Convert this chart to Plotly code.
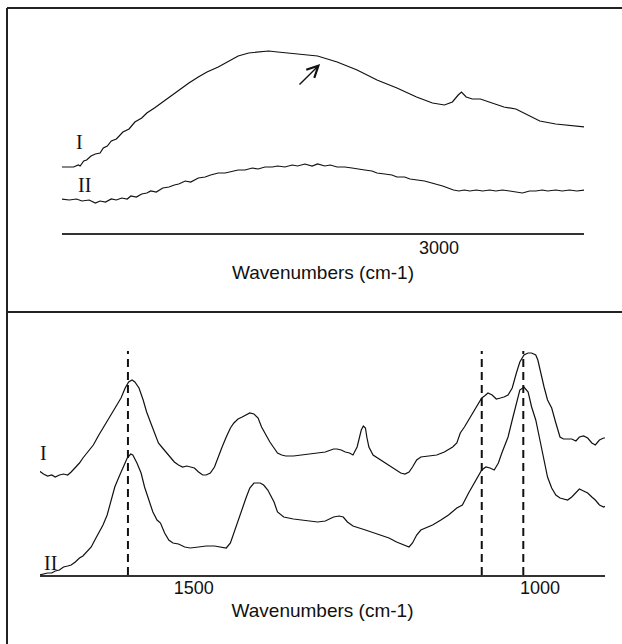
import plotly.graph_objects as go

# ---------------- data: top panel (O-H / C-H region) ----------------
top_wn_I = [4041, 4008, 3995, 3990, 3980, 3972, 3960, 3948, 3935, 3926, 3915, 3904, 3890, 3872,
            3855, 3839, 3820, 3806, 3785, 3762, 3740, 3718, 3690, 3664, 3640, 3609, 3580, 3554,
            3525, 3499, 3470, 3445, 3390, 3335, 3281, 3226, 3171, 3116, 3062, 3018, 2985, 2963,
            2947, 2938, 2925, 2908, 2886, 2854, 2821, 2788, 2766, 2744, 2722, 2678, 2635, 2599]
top_int_I = [66, 66, 68, 67, 72, 73, 77, 79, 80, 85, 87, 92, 94, 101,
             104, 111, 115, 120, 125, 131, 137, 143, 150, 156, 161, 166, 172, 177,
             180, 181, 182, 181, 179, 177, 171, 163, 153, 145, 136, 130, 128, 131,
             138, 141, 136, 134, 134, 130, 126, 124, 120, 116, 112, 109, 107, 106]

top_wn_II = [4041, 4020, 4000, 3985, 3965, 3948, 3935, 3920, 3904, 3890, 3875, 3860, 3850, 3835,
             3820, 3806, 3795, 3780, 3762, 3745, 3730, 3718, 3700, 3685, 3664, 3645, 3630, 3609,
             3590, 3570, 3554, 3535, 3515, 3499, 3480, 3460, 3445, 3425, 3405, 3390, 3370, 3350,
             3335, 3315, 3300, 3281, 3260, 3240, 3226, 3205, 3185, 3171, 3150, 3130, 3116, 3095,
             3080, 3062, 3040, 3020, 3007, 2990, 2975, 2960, 2945, 2930, 2915, 2897, 2880, 2860,
             2843, 2825, 2805, 2788, 2770, 2750, 2733, 2715, 2700, 2678, 2660, 2640, 2620, 2599]
top_int_II = [34, 33, 34, 32, 33, 30, 32, 31, 34, 33, 35, 34, 37, 36,
              39, 40, 42, 41, 45, 46, 48, 49, 52, 51, 55, 56, 58, 60,
              60, 62, 63, 63, 65, 64, 66, 66, 67, 66, 68, 67, 69, 67,
              69, 67, 68, 66, 66, 65, 64, 63, 62, 60, 59, 58, 56, 56,
              54, 53, 52, 50, 49, 47, 45, 43, 42, 43, 42, 43, 42, 43,
              42, 43, 42, 41, 40, 42, 42, 43, 42, 43, 42, 43, 42, 43]

top_ticks = [3000]
top_range = [4040, 2600]

# ---------------- data: bottom panel (fingerprint region) ----------------
bot_wn_I = [1723, 1717, 1711, 1705, 1700, 1694, 1688, 1682, 1677, 1671, 1665, 1660, 1654, 1645,
            1637, 1628, 1619, 1611, 1605, 1599, 1594, 1589, 1585, 1579, 1573, 1568, 1562, 1556,
            1551, 1545, 1539, 1533, 1528, 1522, 1516, 1510, 1505, 1499, 1493, 1487, 1482, 1476,
            1470, 1465, 1459, 1453, 1447, 1442, 1436, 1430, 1424, 1419, 1413, 1407, 1402, 1396,
            1390, 1384, 1379, 1373, 1367, 1356, 1344, 1333, 1321, 1310, 1298, 1293, 1287, 1281,
            1275, 1270, 1264, 1261, 1258, 1255, 1252, 1250, 1247, 1241, 1230, 1218, 1207, 1201,
            1195, 1189, 1184, 1178, 1172, 1161, 1149, 1138, 1126, 1120, 1115, 1109, 1103, 1098,
            1092, 1084, 1080, 1075, 1069, 1063, 1057, 1052, 1046, 1040, 1034, 1029, 1023, 1017,
            1012, 1006, 1003, 1000, 994, 989, 983, 977, 971, 966, 954, 948, 943, 937,
            931, 925, 920, 914, 908, 905]
bot_int_I = [104, 101, 99, 100, 98, 100, 101, 100, 103, 107, 112, 117, 122, 130,
             140, 150, 160, 170, 177, 187, 193, 195, 193, 187, 175, 163, 152, 142,
             132, 127, 122, 117, 113, 110, 108, 109, 108, 107, 103, 100, 100, 102,
             108, 118, 128, 138, 147, 152, 156, 158, 160, 162, 161, 157, 148, 140,
             133, 127, 122, 120, 119, 119, 120, 121, 122, 123, 126, 126, 125, 123,
             122, 120, 128, 138, 145, 149, 147, 138, 128, 120, 115, 110, 105, 102,
             101, 103, 108, 115, 118, 119, 120, 123, 128, 132, 142, 148, 155, 162,
             168, 177, 179, 182, 180, 176, 177, 178, 180, 187, 202, 213, 220, 222,
             222, 220, 215, 205, 188, 175, 167, 152, 138, 136, 136, 134, 138, 139,
             137, 132, 130, 135, 137, 137]

bot_wn_II = [1723, 1717, 1711, 1705, 1700, 1694, 1688, 1682, 1677, 1671, 1665, 1660, 1654, 1648,
             1642, 1637, 1631, 1625, 1619, 1614, 1608, 1602, 1596, 1591, 1588, 1582, 1576, 1571,
             1565, 1559, 1553, 1548, 1542, 1536, 1530, 1522, 1513, 1505, 1493, 1482, 1470, 1459,
             1453, 1447, 1442, 1436, 1430, 1424, 1419, 1413, 1404, 1399, 1393, 1384, 1379, 1370,
             1356, 1344, 1333, 1321, 1310, 1298, 1290, 1284, 1278, 1270, 1252, 1235, 1218, 1207,
             1195, 1189, 1184, 1178, 1172, 1164, 1155, 1143, 1132, 1120, 1112, 1103, 1095, 1084,
             1078, 1072, 1066, 1060, 1055, 1046, 1040, 1034, 1029, 1023, 1017, 1012, 1006, 1000,
             994, 989, 983, 977, 971, 966, 960, 954, 948, 943, 937, 931, 925, 920,
             914, 908, 905]
bot_int_II = [0, 1, 2, 2, 4, 5, 8, 9, 10, 13, 17, 19, 23, 28,
              36, 42, 50, 60, 75, 88, 98, 108, 117, 121, 120, 112, 102, 88,
              75, 63, 55, 52, 42, 35, 32, 31, 28, 27, 28, 29, 29, 28,
              27, 32, 42, 55, 68, 78, 87, 92, 92, 90, 85, 73, 63, 58,
              56, 55, 54, 53, 54, 58, 59, 58, 53, 49, 45, 41, 37, 33,
              30, 28, 32, 40, 45, 47, 50, 55, 60, 67, 70, 82, 92, 105,
              108, 107, 105, 112, 122, 138, 155, 172, 185, 188, 183, 168, 155, 135,
              115, 98, 87, 80, 77, 76, 75, 78, 83, 86, 84, 82, 78, 75,
              70, 68, 69]

bot_ticks = [1500, 1000]
bot_range = [1722, 906]
marker_lines = [1595, 1084, 1024]   # dashed reference bands
marker_top = 224

# ---------------- figure ----------------
W, H = 622, 644
def px_x(p):
    return p / W
def px_y(p):
    return 1 - p / H

line_style = dict(color="#111111", width=1.2)
fig = go.Figure()
fig.add_trace(go.Scatter(x=top_wn_I, y=top_int_I, mode="lines", line=line_style,
                         xaxis="x", yaxis="y", showlegend=False))
fig.add_trace(go.Scatter(x=top_wn_II, y=top_int_II, mode="lines", line=line_style,
                         xaxis="x", yaxis="y", showlegend=False))
fig.add_trace(go.Scatter(x=bot_wn_I, y=bot_int_I, mode="lines", line=line_style,
                         xaxis="x2", yaxis="y2", showlegend=False))
fig.add_trace(go.Scatter(x=bot_wn_II, y=bot_int_II, mode="lines", line=line_style,
                         xaxis="x2", yaxis="y2", showlegend=False))
for wn in marker_lines:
    fig.add_trace(go.Scatter(x=[wn, wn], y=[0, marker_top], mode="lines",
                             line=dict(color="#111111", width=2, dash="8px,5px"),
                             xaxis="x2", yaxis="y2", showlegend=False))

tick_font = dict(family="Liberation Sans, Arial", size=18, color="#111111")
title_font = dict(family="Liberation Sans, Arial", size=19, color="#111111")
axis_common = dict(showline=True, linecolor="#333333", linewidth=1.5, ticks="",
                   showgrid=False, zeroline=False, tickfont=tick_font)

fig.update_layout(
    width=W, height=H, margin=dict(l=0, r=0, t=0, b=0),
    paper_bgcolor="white", plot_bgcolor="white",
    xaxis=dict(domain=[px_x(62), px_x(584)], range=top_range, tickvals=top_ticks,
               anchor="y", title=dict(text="Wavenumbers (cm-1)", font=title_font, standoff=8),
               ticklabelstandoff=-2, **axis_common),
    yaxis=dict(domain=[px_y(233), px_y(20)], range=[0, 213], visible=False, anchor="x"),
    xaxis2=dict(domain=[px_x(40), px_x(605)], range=bot_range, tickvals=bot_ticks,
                anchor="y2", title=dict(text="Wavenumbers (cm-1)", font=title_font, standoff=6),
                ticklabelstandoff=-4, **axis_common),
    yaxis2=dict(domain=[px_y(575), px_y(330)], range=[0, 245], visible=False, anchor="x2"),
)

label_font = dict(family="Liberation Serif, Times New Roman", size=20, color="#111111")
labels = [("x", "y", 3993, 91, "I"), ("x", "y", 3977, 48, "II"),
          ("paper", "y2", px_x(38), 122, "I"), ("paper", "y2", px_x(42), 12, "II")]
for xr, yr, xv, yv, t in labels:
    fig.add_annotation(x=xv, y=yv, xref=xr, yref=yr, text=t, showarrow=False, font=label_font)

fig.add_annotation(x=3328, y=169, ax=3389, ay=147, xref="x", yref="y", axref="x", ayref="y",
                   text="", showarrow=True, arrowhead=5, arrowsize=1.6, arrowwidth=1.4,
                   arrowcolor="#111111")

# panel frames
frame = dict(color="#222222", width=2)
fig.add_shape(type="line", xref="paper", yref="paper", x0=px_x(7), x1=1, y0=px_y(8), y1=px_y(8), line=frame)
fig.add_shape(type="line", xref="paper", yref="paper", x0=px_x(7), x1=px_x(7), y0=px_y(8), y1=0, line=frame)
fig.add_shape(type="line", xref="paper", yref="paper", x0=px_x(7), x1=1, y0=px_y(312), y1=px_y(312), line=frame)

fig.write_html("out.html", config={"displayModeBar": False},
               post_script="document.body.style.margin='0';document.body.style.overflow='hidden';")
